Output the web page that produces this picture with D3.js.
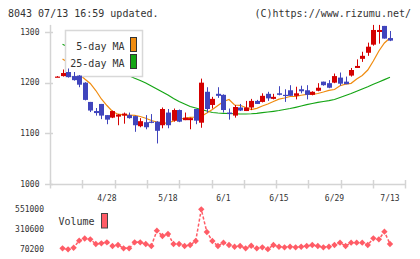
<!DOCTYPE html>
<html>
<head>
<meta charset="utf-8">
<script src="https://cdn.jsdelivr.net/npm/d3@7"></script>
<style>
  body { margin: 0; background: #fff; }
  svg text { font-family: "DejaVu Sans Mono", monospace; fill: #333; }
</style>
</head>
<body>
<div class="chart"></div>
<script>
const w = 420;
const h = 259;

const dates = ["4/15","4/16","4/17","4/20","4/21","4/22","4/23","4/24","4/27","4/28",
  "4/29","4/30","5/1","5/7","5/8","5/11","5/12","5/13","5/14","5/15",
  "5/18","5/19","5/20","5/21","5/22","5/25","5/26","5/27","5/28","5/29",
  "6/1","6/2","6/3","6/4","6/5","6/8","6/9","6/10","6/11","6/12",
  "6/15","6/16","6/17","6/18","6/19","6/22","6/23","6/24","6/25","6/26",
  "6/29","6/30","7/1","7/2","7/3","7/6","7/7","7/8","7/9","7/10","7/13"];

const opens = [1211,1213,1221,1213,1214,1200,1162,1144,1158,1136,
  1131,1133,1135,1136,1134,1114,1122,1123,1123,1116,
  1141,1125,1146,1126,1126,1148,1121,1182,1156,1178,
  1176,1141,1135,1151,1144,1151,1164,1162,1178,1168,
  1179,1176,1185,1174,1187,1185,1176,1184,1202,1199,
  1200,1210,1202,1214,1229,1247,1259,1275,1300,1312,1288];
const highs = [1213,1226,1228,1221,1215,1201,1162,1150,1158,1136,
  1145,1138,1141,1141,1135,1130,1136,1138,1124,1151,
  1148,1149,1147,1141,1131,1148,1208,1191,1172,1191,
  1177,1149,1156,1158,1164,1168,1166,1179,1182,1178,
  1193,1187,1195,1192,1194,1195,1183,1199,1202,1205,
  1218,1220,1212,1229,1246,1261,1279,1314,1314,1312,1302];
const lows = [1211,1212,1210,1204,1191,1165,1142,1135,1128,1118,
  1130,1116,1119,1129,1103,1112,1108,1120,1080,1110,
  1110,1123,1122,1126,1108,1118,1111,1141,1149,1170,
  1141,1127,1131,1144,1144,1146,1158,1161,1164,1167,
  1175,1162,1174,1167,1179,1167,1175,1183,1194,1189,
  1199,1194,1197,1212,1229,1241,1253,1273,1277,1287,1282];
const closes = [1212,1219,1211,1205,1196,1166,1145,1140,1135,1127,
  1144,1137,1139,1130,1116,1124,1112,1121,1105,1148,
  1116,1146,1123,1131,1130,1125,1200,1148,1168,1174,
  1146,1138,1152,1145,1151,1164,1158,1174,1169,1172,
  1176,1174,1174,1179,1183,1176,1182,1190,1195,1190,
  1213,1198,1197,1225,1233,1253,1271,1304,1304,1287,1283];

const ma5 = [null,1246.7,1239.8,1229,1217.1,1207.2,1198.4,1184.5,1167.8,1154.9,
  1143.1,1137.8,1136.6,1136.2,1135.4,1133.2,1129.7,1125.3,1122.4,1119.8,
  1120.8,1124.3,1128.3,1129.7,1131.6,1132.2,1133.6,1140.1,1147,1154.9,
  1163,1166.8,1155.9,1155.3,1151,1147,1149.4,1153.9,1157.9,1162.8,
  1167.4,1169.7,1172.7,1173.1,1175.1,1177,1177,1178.6,1181.6,1184.9,
  1186.5,1194,1197.2,1198.7,1207.2,1214.1,1225,1242.8,1262.5,1278.3,1288.2];
const ma25 = [null,1275.7,1270.4,1264.5,1259.5,1254.6,1249.7,1244.7,1239.8,1234.9,
  1228.9,1224,1219.1,1213.7,1208.6,1204.3,1199.3,1193.4,1187.5,1181.6,
  1175.7,1168.8,1162.8,1157.9,1153,1150,1147,1144.1,1141.1,1140.1,
  1139.5,1139.1,1138.7,1138.2,1138.2,1138.7,1139.5,1140.7,1142.1,1143.5,
  1145.1,1147,1149,1151.4,1153.9,1156.5,1158.9,1161.2,1162.8,1164.4,
  1166.8,1170.7,1174.7,1178.6,1183,1187.5,1192,1196.8,1201.3,1205.9,1210.6];
const volumes = [null,82000,70200,89000,174000,200000,190000,134000,142000,154000,
  110000,122000,82000,82000,154000,154000,134000,110000,294000,230000,
  254000,134000,134000,110000,122000,170000,551000,278000,170000,110000,
  150000,122000,101000,110000,82000,113000,82000,94000,72000,122000,
  101000,94000,101000,94000,101000,110000,122000,110000,94000,101000,
  122000,150000,110000,150000,150000,150000,122000,202000,190000,282000,134000];

const priceTicks = [1000, 1100, 1200, 1300];
const volumeTicks = [70200, 310600, 551000];
const dateTicks = ["4/28", "5/18", "6/1", "6/15", "6/29", "7/13"];

const upColor = "#d40000";
const downColor = "#4045bd";
const ma5Color = "#f08c10";
const ma25Color = "#14a514";
const volColor = "#ff5c66";
const axisColor = "#d4d4d4";

const svg = d3.select(".chart")
    .append("svg")
    .attr("width", w)
    .attr("height", h)

const x = d3.scaleBand().domain(dates).range([54.2, 54.2 + 5.55 * dates.length]);
const cx = (d) => x(d) + x.bandwidth() / 2;
const y = d3.scaleLinear().domain([1000, 1300]).range([184, 32]);
const yv = d3.scaleLinear().domain([70200, 551000]).range([249.3, 209.3]);
const frame = d3.scaleLinear().domain([0, 11]).range([50, 405.3]);

// header
svg.append("text").attr("x", 8).attr("y", 16.5).style("font-size", "10px")
    .text("8043 07/13 16:59 updated.")
svg.append("text").attr("x", 411).attr("y", 16.5).attr("text-anchor", "end").style("font-size", "10px")
    .text("(C)https://www.rizumu.net/")

// axes
svg.append("line").attr("x1", 50.5).attr("x2", 50.5).attr("y1", y(1314)).attr("y2", 184.5)
    .attr("stroke", axisColor).attr("stroke-width", 1.5)
svg.append("line").attr("x1", 50).attr("x2", frame(11)).attr("y1", 184.5).attr("y2", 184.5)
    .attr("stroke", axisColor).attr("stroke-width", 1.5)

svg.selectAll(".ytick").data(priceTicks).enter().append("line")
    .attr("x1", 45).attr("x2", 53)
    .attr("y1", (d) => Math.round(y(d)) + 0.5).attr("y2", (d) => Math.round(y(d)) + 0.5)
    .attr("stroke", axisColor).attr("stroke-width", 1.5)
svg.selectAll(".ylabel").data(priceTicks).enter().append("text")
    .attr("x", 39.5).attr("y", (d) => y(d) + 2.8)
    .attr("text-anchor", "end").style("font-size", "8px")
    .text((d) => d)

svg.selectAll(".xtick").data(d3.range(12)).enter().append("line")
    .attr("x1", (d) => Math.round(frame(d)) + 0.5).attr("x2", (d) => Math.round(frame(d)) + 0.5)
    .attr("y1", 180).attr("y2", 188.5)
    .attr("stroke", axisColor).attr("stroke-width", 1.5)
svg.selectAll(".xlabel").data(dateTicks).enter().append("text")
    .attr("x", (d) => cx(d)).attr("y", 200.5)
    .attr("text-anchor", "middle").style("font-size", "8px")
    .text((d) => d)

svg.selectAll(".vlabel").data(volumeTicks).enter().append("text")
    .attr("x", 44).attr("y", (d) => yv(d) + 2.8)
    .attr("text-anchor", "end").style("font-size", "8px")
    .text((d) => d)

// moving averages
const maLine = (arr) => d3.line()
    .defined((d) => d != null)
    .x((d, i) => cx(dates[i]))
    .y((d) => y(d))(arr)

svg.append("path").attr("d", maLine(ma25)).attr("fill", "none")
    .attr("stroke", ma25Color).attr("stroke-width", 1.2)
svg.append("path").attr("d", maLine(ma5)).attr("fill", "none")
    .attr("stroke", ma5Color).attr("stroke-width", 1.2)

// legend
const legend = svg.append("g")
legend.append("rect").attr("x", 65.5).attr("y", 30.5).attr("width", 77).attr("height", 46)
    .attr("fill", "#fff").attr("stroke", "#d8d8d8").attr("stroke-width", 1.5)
legend.selectAll("text").data(["5-day MA", "25-day MA"]).enter().append("text")
    .attr("x", 124.5).attr("y", (d, i) => 50 + i * 16.5)
    .attr("text-anchor", "end").style("font-size", "10px")
    .text((d) => d)
legend.selectAll(".sw").data([ma5Color, ma25Color]).enter().append("rect")
    .attr("x", 130.5).attr("y", (d, i) => 37.5 + i * 17)
    .attr("width", 6).attr("height", 14)
    .attr("fill", (d) => d).attr("stroke", "#333").attr("stroke-width", 1)

// candles
const candles = dates.map((d, i) => ({ date: d, o: opens[i], h: highs[i], l: lows[i], c: closes[i] }))
const cg = svg.append("g").selectAll("g").data(candles).enter().append("g")
const colorOf = (d) => d.c >= d.o ? upColor : downColor

cg.append("line")
    .attr("x1", (d) => Math.round(cx(d.date)) + 0.5).attr("x2", (d) => Math.round(cx(d.date)) + 0.5)
    .attr("y1", (d) => y(d.h)).attr("y2", (d) => y(d.l))
    .attr("stroke", colorOf).attr("stroke-width", 1)
cg.append("rect")
    .attr("x", (d) => Math.round(cx(d.date)) - 2)
    .attr("y", (d) => y(Math.max(d.o, d.c)))
    .attr("width", 5)
    .attr("height", (d) => Math.max(1.2, y(Math.min(d.o, d.c)) - y(Math.max(d.o, d.c))))
    .attr("fill", colorOf)

// volume
const volLine = d3.line()
    .defined((d) => d != null)
    .x((d, i) => cx(dates[i]))
    .y((d) => yv(d))

svg.append("path").attr("d", volLine(volumes)).attr("fill", "none")
    .attr("stroke", volColor).attr("stroke-width", 1.5).attr("stroke-dasharray", "3,2")
svg.selectAll(".vpt").data(volumes.map((v, i) => ({ v: v, date: dates[i] })).filter((d) => d.v != null))
    .enter().append("path")
    .attr("d", d3.symbol().type(d3.symbolSquare).size(20))
    .attr("transform", (d) => `translate(${cx(d.date)},${yv(d.v)}) rotate(45)`)
    .attr("fill", volColor)

svg.append("text").attr("x", 58.5).attr("y", 225.3).style("font-size", "10px").text("Volume")
svg.append("rect").attr("x", 101.5).attr("y", 213.5).attr("width", 6).attr("height", 14.5)
    .attr("fill", volColor).attr("stroke", "#444").attr("stroke-width", 1)
</script>
</body>
</html>
